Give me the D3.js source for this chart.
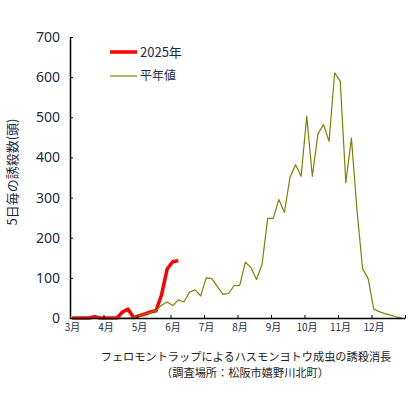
<!DOCTYPE html>
<html>
<head>
<meta charset="utf-8">
<script src="https://cdn.jsdelivr.net/npm/d3@7"></script>
<style>
  body { margin: 0; background: #fff; }
  text { font-family: "Noto Sans CJK JP", "Noto Sans", sans-serif; }
</style>
</head>
<body>
<script>
// 半旬 (5-day) catches from March 1 to December end, 6 per month
var months = ["3月", "4月", "5月", "6月", "7月", "8月", "9月", "10月", "11月", "12月"];
var yTicks = [0, 100, 200, 300, 400, 500, 600, 700];

var year2025 = [0, 0, 0, 0, 3, 0, 0, 0, 0, 15,
                22, 1, 6, 10, 15, 18, 58, 122, 140, 143];

var normal = [0, 0, 0, 0, 0, 0, 0, 0, 0, 0,
              0, 2, 6, 10, 14, 18, 32, 40, 31, 45,
              40, 64, 70, 55, 100, 98, 78, 59, 61, 81,
              81, 139, 126, 96, 134, 248, 248, 295, 263, 350,
              382, 353, 503, 353, 458, 482, 440, 611, 590, 337,
              448, 269, 123, 98, 22, 16, 11, 7, 3, 0];

var series = [
    { name: "2025年", values: year2025, color: "#ff0000", width: 3.5 },
    { name: "平年値", values: normal, color: "#808000", width: 1.2 }
];

var margin = {top: 37, right: 15, bottom: 76, left: 70},
    width = 420 - margin.left - margin.right,
    height = 394 - margin.top - margin.bottom;

var x = d3.scaleLinear()
    .domain([0, months.length * 6])
    .range([0, width]);

var y = d3.scaleLinear()
    .domain([0, 700])
    .range([height, 0]);

var svg = d3.select("body")
    .append("svg")
    .attr("width", 420)
    .attr("height", 394);

var main = svg.append("g")
    .attr("transform", "translate(" + margin.left + "," + margin.top + ")");

// lines (平年値 drawn on top of 2025)
var line = d3.line()
    .x(function (d, i) { return x(i + 0.4); })
    .y(function (d) { return y(d); });

main.selectAll(".series")
    .data(series)
    .enter().append("path")
    .attr("class", "series")
    .attr("fill", "none")
    .attr("stroke", function (d) { return d.color; })
    .attr("stroke-width", function (d) { return d.width; })
    .attr("stroke-linejoin", "round")
    .attr("d", function (d) { return line(d.values); });

// y axis
var yAxis = d3.axisLeft(y)
    .tickValues(yTicks)
    .tickSizeInner(-3)
    .tickSizeOuter(0)
    .tickPadding(10);

var gy = main.append("g").call(yAxis);
gy.select(".domain").attr("stroke", "#000").attr("stroke-width", 1.5);
gy.selectAll(".tick line").attr("stroke", "#000");
gy.selectAll(".tick text")
    .attr("font-size", 14)
    .attr("fill", "#1a2a4a")
    .style("font-family", "Noto Sans, sans-serif");

// x axis: ticks at month boundaries
var monthTicks = d3.range(months.length + 1).map(function (m) { return m * 6; });
var xAxis = d3.axisBottom(x)
    .tickValues(monthTicks)
    .tickSizeInner(-3)
    .tickSizeOuter(0)
    .tickFormat(function (d) { return months[d / 6] || ""; })
    .tickPadding(6);

var gx = main.append("g")
    .attr("transform", "translate(0," + height + ")")
    .call(xAxis);
gx.select(".domain").attr("stroke", "#000").attr("stroke-width", 1.5);
gx.selectAll(".tick line").attr("stroke", "#000");
gx.selectAll(".tick text")
    .attr("font-size", 10)
    .attr("dx", 2)
    .attr("fill", "#1a2a4a");

// y axis title
svg.append("text")
    .attr("transform", "translate(17,172) rotate(-90)")
    .attr("text-anchor", "middle")
    .attr("font-size", 13)
    .attr("fill", "#1a2a4a")
    .text("5日毎の誘殺数(頭)");

// legend
var legend = svg.selectAll(".legend")
    .data(series)
    .enter().append("g")
    .attr("class", "legend")
    .attr("transform", function (d, i) { return "translate(110," + (52 + i * 24) + ")"; });

legend.append("line")
    .attr("x1", 0).attr("x2", 27)
    .attr("stroke", function (d) { return d.color; })
    .attr("stroke-width", function (d) { return d.width; });

legend.append("text")
    .attr("x", 30)
    .attr("dy", "0.35em")
    .attr("font-size", function (d, i) { return i === 0 ? 13 : 12; })
    .attr("fill", "#1a2a4a")
    .text(function (d) { return d.name; });

// caption
svg.append("text")
    .attr("x", 246).attr("y", 361)
    .attr("text-anchor", "middle")
    .attr("font-size", 11.2)
    .attr("fill", "#222")
    .text("フェロモントラップによるハスモンヨトウ成虫の誘殺消長");

svg.append("text")
    .attr("x", 245).attr("y", 377)
    .attr("text-anchor", "middle")
    .attr("font-size", 11.2)
    .attr("fill", "#222")
    .text("（調査場所：松阪市嬉野川北町）");
</script>
</body>
</html>
